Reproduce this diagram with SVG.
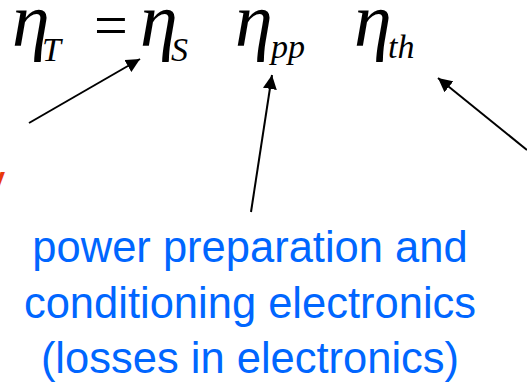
<svg xmlns="http://www.w3.org/2000/svg" width="527" height="382" viewBox="0 0 527 382">
<style>
.eq{font-family:"Liberation Serif","Times New Roman",serif;font-style:italic;fill:#000;font-size:76px}
.sub{font-size:34px}
.op{font-family:"Liberation Serif","Times New Roman",serif;font-size:60px;fill:#000}
.lbl{font-family:"Liberation Sans",Arial,sans-serif;font-size:43.5px;fill:#0066ff;text-anchor:middle}
.red{font-family:"Liberation Sans",Arial,sans-serif;font-size:46px;fill:#e8380d}
.arr{stroke:#000;stroke-width:2;fill:none;marker-end:url(#ah)}
</style>
<defs>
<marker id="ah" markerUnits="userSpaceOnUse" markerWidth="16" markerHeight="14" refX="14" refY="7" orient="auto">
<path d="M0,0 L14,7 L0,14 z" fill="#000"/>
</marker>
</defs>
<g id="equation">
<text class="eq" x="12" y="46">η<tspan class="sub" x="42" y="61">T</tspan></text>
<text class="op" x="94" y="45">=</text>
<text class="eq" x="140" y="46">η<tspan class="sub" x="171" y="61">S</tspan></text>
<text class="eq" x="235" y="46">η<tspan class="sub" x="271" y="58">pp</tspan></text>
<text class="eq" x="354" y="46">η<tspan class="sub" x="388" y="58">th</tspan></text>
</g>
<g id="label-left">
<text class="red" x="-18" y="197">y</text>
</g>
<g id="label-pp">
<text class="lbl" x="250" y="262">power preparation and</text>
<text class="lbl" x="250" y="318">conditioning electronics</text>
<text class="lbl" x="250" y="373">(losses in electronics)</text>
</g>
<g id="connectors">
<line class="arr" x1="29" y1="123" x2="140" y2="59"/>
<line class="arr" x1="251" y1="212" x2="272" y2="75"/>
<line class="arr" x1="527" y1="150" x2="438" y2="78"/>
</g>
</svg>
